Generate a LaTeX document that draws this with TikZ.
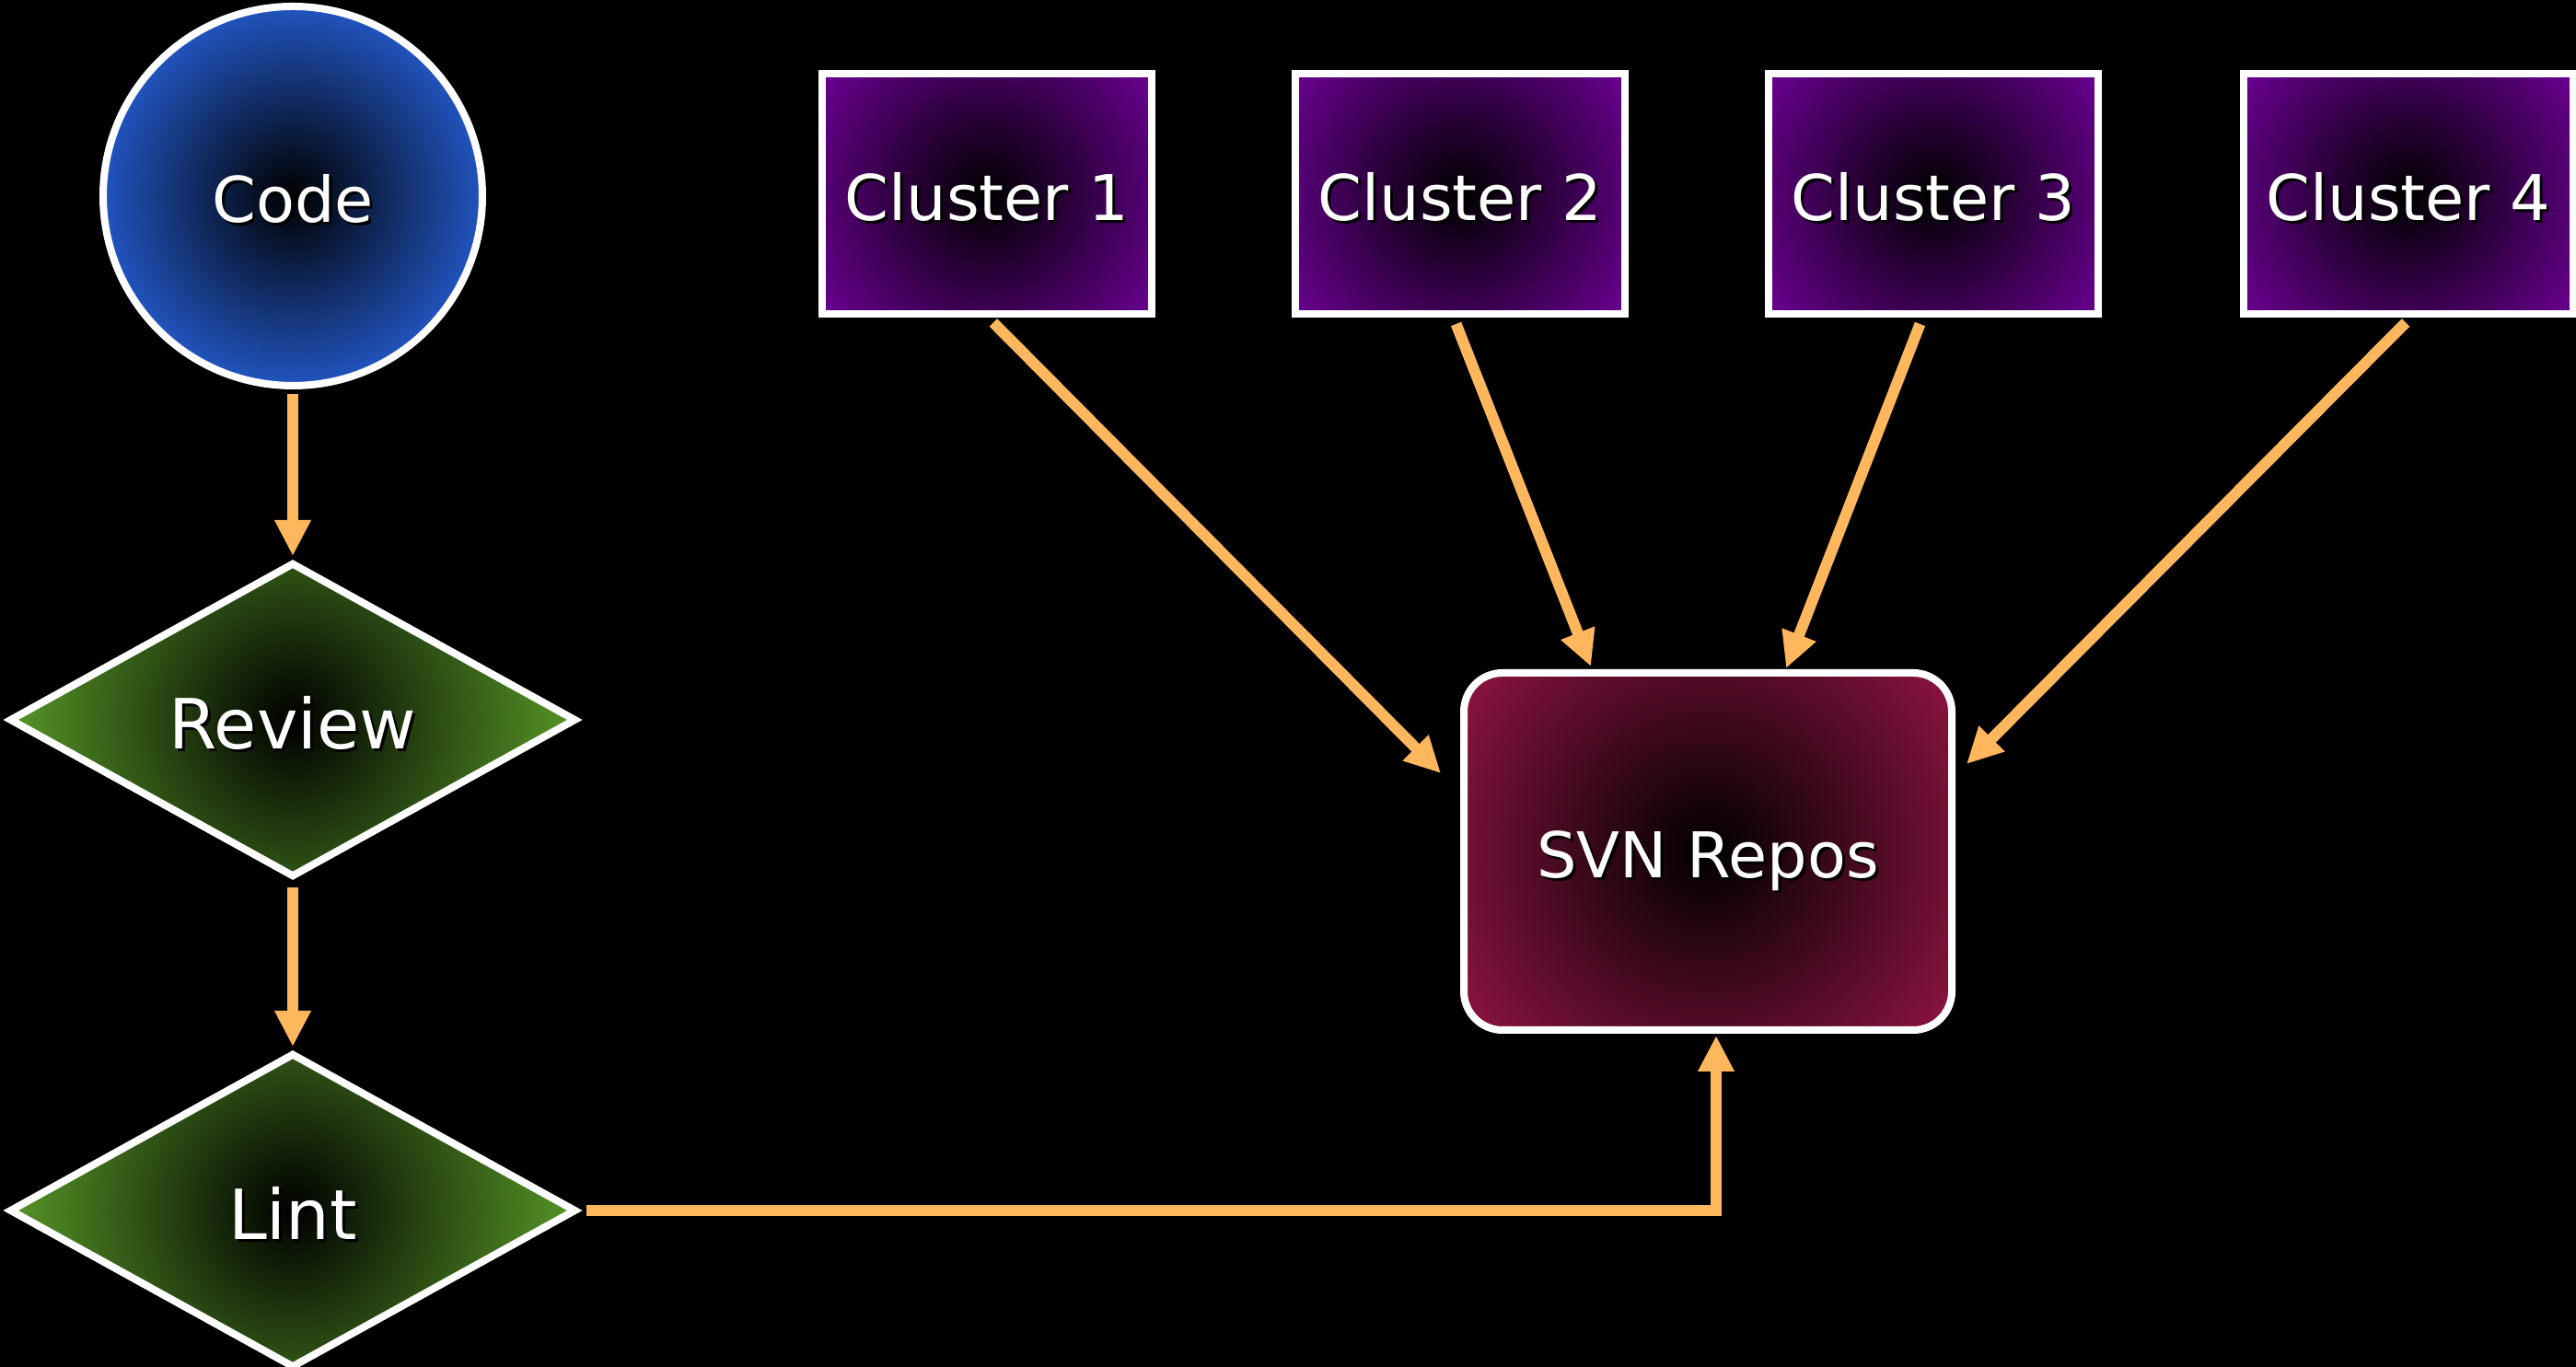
\documentclass[tikz,border=0pt]{standalone}
\usepackage{fontspec}
\setmainfont{DejaVu Sans}
\usetikzlibrary{shapes.geometric,arrows.meta}
\definecolor{CodeBlue}{RGB}{33,84,190}
\definecolor{CheckGreen}{RGB}{90,156,40}
\definecolor{ClusterPurple}{RGB}{106,0,145}
\definecolor{RepoRed}{RGB}{142,20,66}
\definecolor{FlowOrange}{RGB}{255,183,94}
\newcommand{\txtshadow}[1]{\rlap{\kern0.03cm\raisebox{-0.03cm}{\color{black}#1}}#1}

\begin{document}
\begin{tikzpicture}[
  glow/.style 2 args={path picture={
    \shade[inner color=black, outer color=#1] (path picture bounding box.center) circle (#2);}},
  box/.style={draw=white, line width=0.08cm, text=white, text height=16.4pt, text depth=0pt,
    font=\fontsize{19.5pt}{23pt}\selectfont},
  codecircle/.style={box, circle, minimum size=4.12cm, glow={CodeBlue}{2.06cm}},
  check/.style={box, diamond, aspect=1.8, minimum width=6.16cm, minimum height=3.42cm,
    font=\fontsize{21.4pt}{25pt}\selectfont, text height=17.8pt, glow={CheckGreen}{3.2cm}},
  cluster/.style={box, rectangle, minimum width=3.58cm, minimum height=2.61cm,
    glow={ClusterPurple}{2.2cm}},
  repo/.style={box, rectangle, rounded corners=0.42cm, minimum width=5.3cm,
    minimum height=3.88cm, glow={RepoRed}{3.28cm}},
  flow/.style={draw=FlowOrange, line width=0.12cm,
    -{Triangle[length=0.39cm,width=0.37cm]}}
]
\fill[black] (0,0) rectangle (27.98,14.85);
\useasboundingbox (0,0) rectangle (27.98,14.85);

% left column
\node[codecircle] (code) at (3.18,12.72) {\txtshadow{Code}};
\node[check] (review) at (3.18,7.03) {\txtshadow{Review}};
\node[check] (lint) at (3.18,1.70) {\txtshadow{Lint}};

% clusters and repository
\node[cluster] (c1) at (10.72,12.74) {\txtshadow{Cluster 1}};
\node[cluster] (c2) at (15.86,12.74) {\txtshadow{Cluster 2}};
\node[cluster] (c3) at (21.00,12.74) {\txtshadow{Cluster 3}};
\node[cluster] (c4) at (26.16,12.74) {\txtshadow{Cluster 4}};
\node[repo] (svn) at (18.55,5.60) {\txtshadow{SVN Repos}};

\coordinate (in1) at (15.65,6.45);
\coordinate (in2) at (17.28,7.61);
\coordinate (in3) at (19.40,7.59);
\coordinate (in4) at (21.36,6.55);

\draw[flow, shorten <=0.05cm, shorten >=0.03cm] (code) -- (review);
\draw[flow, shorten <=0.07cm, shorten >=0.03cm] (review) -- (lint);
\draw[flow, shorten <=0.07cm, shorten >=0.02cm] (lint.east) -| ([xshift=0.09cm]svn.south);

\draw[flow, shorten <=0.07cm] ([xshift=0.02cm]c1.south) -- (in1);
\draw[flow, shorten <=0.07cm] ([xshift=-0.07cm]c2.south) -- (in2);
\draw[flow, shorten <=0.07cm] ([xshift=-0.12cm]c3.south) -- (in3);
\draw[flow, shorten <=0.07cm] ([xshift=0.02cm]c4.south) -- (in4);
\end{tikzpicture}
\end{document}
